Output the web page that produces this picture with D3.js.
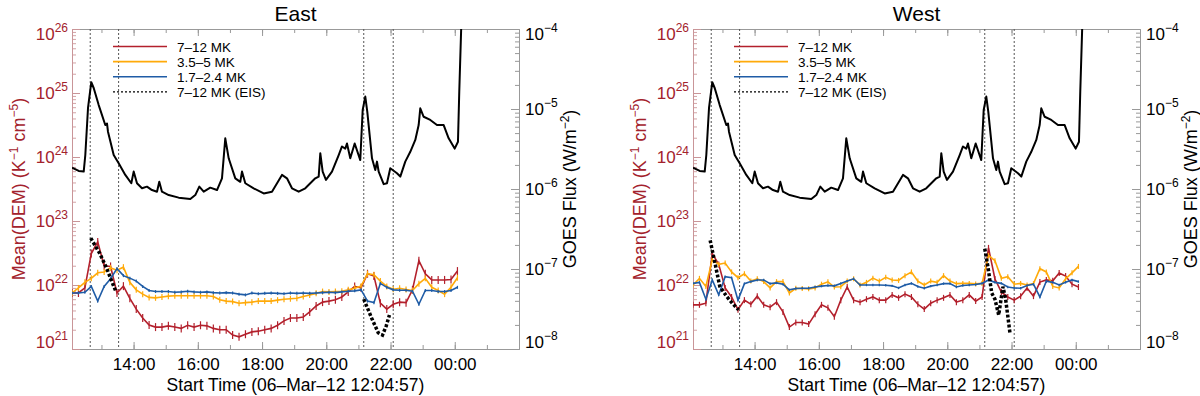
<!DOCTYPE html>
<html>
<head>
<meta charset="utf-8">
<script src="https://cdn.jsdelivr.net/npm/d3@7"></script>
<style>
  body { margin: 0; background: #fff; }
  svg text { font-family: "Liberation Sans", Arial, Helvetica, sans-serif; }
</style>
</head>
<body>
<svg id="chart" width="1200" height="396"></svg>
<script>
// ---- data ----
// AIA DEM sample times, 12 min cadence
const demTimes = [
  "12:05","12:17","12:29","12:41","12:53",
  "13:05","13:17","13:29","13:41","13:53",
  "14:05","14:17","14:29","14:41","14:53",
  "15:05","15:17","15:29","15:41","15:53",
  "16:05","16:17","16:29","16:41","16:53",
  "17:05","17:17","17:29","17:41","17:53",
  "18:05","18:17","18:29","18:41","18:53",
  "19:05","19:17","19:29","19:41","19:53",
  "20:05","20:17","20:29","20:41","20:53",
  "21:05","21:17","21:29","21:41","21:53",
  "22:05","22:17","22:29","22:41","22:53",
  "23:05","23:17","23:29","23:41","23:53",
  "00:05"
];

// mean DEM, units of 1e21 K^-1 cm^-5
const eastRed = [7.5, 7.5, 9.0, 31, 47, 20, 19.5, 7.5, 9.6, 6.2, 4.2, 3.05, 2.37, 2.2, 2.2, 2.3, 2.2, 2.1, 2.35, 2.2,
  2.35, 2.3, 2.1, 2.0, 2.0, 1.65, 1.55, 1.7, 1.85, 1.9, 2.0, 2.1, 2.35, 2.75, 3.05, 3.05, 3.15, 3.8, 4.7, 5.4,
  5.6, 5.9, 6.5, 7.8, 9.5, 9.0, 15, 13.8, 5.2, 4.2, 5.0, 5.4, 5.3, 8.4, 24, 15, 12, 12, 12, 12.2, 16.5];
const eastOrange = [7.5, 9.0, 11, 12.7, 15.5, 16, 18.5, 17, 19, 11, 8.4, 7.2, 6.4, 6.3, 6.5, 6.7, 6.8, 6.8, 6.8, 6.8,
  6.8, 6.8, 6.6, 5.9, 5.6, 5.5, 5.2, 5.3, 5.4, 5.6, 5.6, 5.6, 5.8, 6.0, 6.1, 6.2, 6.6, 7.0, 7.4, 7.9,
  7.8, 7.9, 8.0, 8.4, 8.9, 9.6, 15, 14.5, 11.5, 9.5, 8.6, 8.9, 8.5, 8.2, 10.5, 12.7, 9.2, 8.2, 7.2, 9.2, 13];
const eastBlue = [7.5, 7.5, 7.7, 9.5, 5.6, 9.5, 12.5, 18, 14, 12.8, 11.5, 9.5, 8.2, 7.9, 7.9, 7.9, 7.7, 7.8, 8.0, 7.8,
  7.7, 7.8, 7.6, 7.5, 7.6, 7.5, 7.2, 7.0, 7.5, 7.3, 7.4, 7.5, 7.4, 7.3, 7.5, 7.4, 7.5, 7.4, 7.5, 7.6,
  7.7, 7.6, 7.8, 8.0, 8.1, 8.4, 5.6, 5.3, 10.6, 9.2, 8.4, 8.3, 8.3, 8.0, 5.0, 8.2, 8.2, 7.9, 7.9, 8.2, 9.2];

const westRed = [4.9, 4.9, 5.2, 31, 21, 9, 6.5, 4.1, 5.8, 5.0, 6.7, 4.9, 4.5, 5.4, 3.8, 2.2, 2.6, 2.6, 2.45, 3.5,
  4.9, 4.4, 3.2, 5.8, 9.3, 5.8, 5.4, 6.0, 6.5, 5.8, 5.8, 7.0, 6.3, 7.2, 6.5, 5.0, 4.2, 5.2, 5.8, 6.3,
  7.0, 5.4, 5.8, 7.0, 5.6, 6.5, 38, 12.4, 7.8, 6.5, 5.8, 6.7, 9.0, 6.7, 11.1, 12, 11.6, 15.4, 13.8, 10.3, 9.3];
const westOrange = [10, 12.7, 9.5, 25, 21, 22, 16, 13, 15, 11.5, 12.5, 11.3, 9, 11.3, 11.3, 7.5, 8.9, 8.8, 8.7, 9,
  10.3, 11.2, 9.3, 9.4, 11.5, 12.5, 10, 11, 12.8, 11.5, 13.2, 12, 11.8, 14, 16, 11.5, 10, 11.5, 11, 14,
  11.5, 10.5, 10.6, 10.6, 10.4, 10.6, 29, 24, 12.7, 13.5, 10.3, 10.6, 10, 10.5, 18, 16, 9.5, 9, 12.5, 15.5, 19.5];
const westBlue = [10.6, 11, 6.0, 12, 7, 13.5, 13, 5.8, 10.5, 11.3, 12, 12, 10.5, 10.8, 10.3, 8.4, 8.8, 8.9, 8.9, 9.3,
  9.6, 9.8, 9.7, 10.6, 11.5, 12.5, 10, 10, 10, 10, 9.9, 9.7, 9.0, 10, 10.6, 9.5, 8.9, 9.6, 10, 10.5,
  10.5, 9.3, 9.8, 10, 10.2, 10.6, 12, 11, 10.6, 9.3, 9, 8.9, 9.8, 10.3, 6.5, 11.5, 11, 10, 11, 12, 11.3];

// EIS 7-12 MK, two rasters per side (units of 1e21)
const eastEisTimes1 = ["12:40", "12:57", "13:10", "13:22", "13:27"];
const eastEisValues1 = [54, 31, 18, 10, 7.9];
const eastEisTimes2 = ["21:10", "21:25", "21:37", "21:45", "21:52", "21:58"];
const eastEisValues2 = [6.0, 3.0, 1.8, 1.65, 2.3, 3.4];
const westEisTimes1 = ["12:37", "12:46", "12:55", "13:08", "13:20", "13:30"];
const westEisValues1 = [50, 22, 9.5, 6.6, 5.0, 4.1];
const westEisTimes2 = ["21:10", "21:16", "21:23", "21:29", "21:36", "21:44", "21:49", "21:57"];
const westEisValues2 = [37, 19, 7.5, 6.0, 3.4, 9.4, 6.0, 1.8];

// EIS raster start/end times (dotted verticals)
const eisWindows = ["12:39", "13:32", "21:10", "22:05"];

// GOES 1-8 A flux; hours of day (>24 = 7 March)
const goesHours = [12.083,12.291,12.447,12.497,12.581,12.683,12.758,12.914,13.119,13.172,13.203,13.381,13.536,13.742,
  13.929,14.003,14.106,14.262,14.417,14.573,14.729,14.800,14.884,15.093,15.404,15.766,15.921,16.046,16.183,16.388,
  16.597,16.752,16.855,16.961,17.167,17.322,17.375,17.478,17.739,18.051,18.309,18.620,18.776,18.932,19.140,19.346,
  19.657,19.763,19.813,19.887,19.990,20.177,20.386,20.488,20.591,20.644,20.747,20.884,21.058,21.133,21.214,21.276,
  21.423,21.525,21.578,21.631,21.787,21.889,21.992,22.201,22.304,22.459,22.615,22.771,22.876,22.926,23.032,23.238,
  23.446,23.655,23.810,23.997,24.100,24.140,24.203,24.240];
const goesFlux = [1.85e-6,1.68e-6,1.65e-6,2.66e-6,1.03e-5,2.16e-5,1.83e-5,1.12e-5,6.3e-6,6.6e-6,5.2e-6,2.66e-6,2.1e-6,
  1.5e-6,1.18e-6,1.65e-6,1.18e-6,1.02e-6,1.07e-6,9.7e-7,9.25e-7,1.23e-6,9.25e-7,8.4e-7,7.8e-7,7.5e-7,8.4e-7,1.07e-6,
  9.25e-7,1.04e-6,9.7e-7,1.36e-6,4.3e-6,2.42e-6,1.36e-6,1.23e-6,1.65e-6,1.18e-6,1.02e-6,8.8e-7,9.25e-7,1.5e-6,1.36e-6,
  1.02e-6,9.25e-7,1.02e-6,1.36e-6,1.43e-6,2.8e-6,1.65e-6,1.3e-6,1.65e-6,2.66e-6,3.4e-6,3.2e-6,3.7e-6,2.42e-6,3.7e-6,
  2.3e-6,9.7e-6,1.43e-5,9.25e-6,2.42e-6,1.73e-6,2.2e-6,1.65e-6,1.15e-6,1.18e-6,1.82e-6,1.57e-6,1.43e-6,2.2e-6,2.92e-6,
  4.1e-6,6.3e-6,1.02e-5,8.0e-6,7.3e-6,6.3e-6,6.3e-6,4.3e-6,3.2e-6,3.9e-6,1.64e-5,1.12e-4,2e-4];

const xTickLabels = ["14:00", "16:00", "18:00", "20:00", "22:00", "00:00"];
const demDecades = [21, 22, 23, 24, 25, 26];
const goesDecades = [-8, -7, -6, -5, -4];
const legendLabels = ["7\u201312 MK", "3.5\u20135 MK", "1.7\u20132.4 MK", "7\u201312 MK (EIS)"];

// ---- layout ----
const plotTop = 29, plotW = 447, plotH = 320;
const colRed = "#b3202c", colOrange = "#ffaa0a", colBlue = "#1f5ca6", colAxisRed = "#a3222c";

const t0 = Date.UTC(2012, 2, 6);
const fromHours = h => new Date(t0 + h * 3600000);
function fromClock(s) {
  const p = s.split(":").map(Number);
  const h = p[0] < 12 ? p[0] + 24 : p[0];
  return fromHours(h + p[1] / 60 + (p[2] || 0) / 3600);
}

const x = d3.scaleUtc().domain([fromClock("12:04:57"), fromClock("02:00")]).range([0, plotW]);
const yDem = d3.scaleLog().domain([1e21, 1e26]).range([plotH, 0]);
const yGoes = d3.scaleLog().domain([1e-8, 1e-4]).range([plotH, 0]);

const svg = d3.select("#chart");

const panels = [
  { name: "East", left: 72, red: eastRed, orange: eastOrange, blue: eastBlue,
    eis: [[eastEisTimes1, eastEisValues1], [eastEisTimes2, eastEisValues2]], bars: [4, 3, 1.5] },
  { name: "West", left: 693, red: westRed, orange: westOrange, blue: westBlue,
    eis: [[westEisTimes1, westEisValues1], [westEisTimes2, westEisValues2]], bars: [3, 2.5, 1.2] }
];

function minorLog(lo, hi) {
  const out = [];
  for (let e = lo; e < hi; e++) for (let m = 2; m < 10; m++) out.push(m * Math.pow(10, e));
  return out;
}

function styleAxis(sel, color) {
  sel.select(".domain").attr("stroke", color);
  sel.selectAll(".tick line").attr("stroke", color);
  sel.selectAll(".tick text").remove();
}

function supLabel(g, xPos, yPos, exp, anchor, color) {
  const t = g.append("text")
    .attr("x", xPos).attr("y", yPos)
    .attr("text-anchor", anchor)
    .attr("fill", color)
    .style("font-size", "17px");
  t.append("tspan").text("10");
  t.append("tspan").attr("dy", -8).style("font-size", "12px")
    .text(String(exp).replace("-", "\u2212"));
}

panels.forEach((p, pi) => {
  const g = svg.append("g").attr("transform", `translate(${p.left},${plotTop})`);

  g.append("clipPath").attr("id", "clip" + pi)
    .append("rect").attr("width", plotW).attr("height", plotH);

  // x axes (bottom with labels, top mirrored)
  const hourTicks = d3.utcHour.range(x.domain()[0], x.domain()[1]);
  const majors = xTickLabels.map(fromClock);
  const bMinor = g.append("g").attr("transform", `translate(0,${plotH})`)
    .call(d3.axisBottom(x).tickValues(hourTicks).tickSizeInner(-4).tickSizeOuter(0).tickFormat(""));
  styleAxis(bMinor, "#999");
  const bMajor = g.append("g").attr("transform", `translate(0,${plotH})`)
    .call(d3.axisBottom(x).tickValues(majors).tickSizeInner(-7).tickSizeOuter(0)
      .tickFormat(d3.utcFormat("%H:%M")));
  bMajor.select(".domain").attr("stroke", "#999");
  bMajor.selectAll(".tick line").attr("stroke", "#999");
  bMajor.selectAll(".tick text").attr("fill", "#000").style("font-size", "17px")
    .attr("y", 21).attr("dy", null);
  const tMinor = g.append("g")
    .call(d3.axisTop(x).tickValues(hourTicks).tickSizeInner(-4).tickSizeOuter(0).tickFormat(""));
  styleAxis(tMinor, "#999");
  const tMajor = g.append("g")
    .call(d3.axisTop(x).tickValues(majors).tickSizeInner(-7).tickSizeOuter(0).tickFormat(""));
  styleAxis(tMajor, "#999");

  // left DEM axis
  const lMinor = g.append("g")
    .call(d3.axisLeft(yDem).tickValues(minorLog(21, 26)).tickSizeInner(-4).tickSizeOuter(0).tickFormat(""));
  styleAxis(lMinor, "#d3a3a6");
  const lMajor = g.append("g")
    .call(d3.axisLeft(yDem).tickValues(demDecades.map(e => Math.pow(10, e))).tickSizeInner(-8).tickSizeOuter(0).tickFormat(""));
  styleAxis(lMajor, "#c99598");
  demDecades.forEach((e, i) => {
    const yy = yDem(Math.pow(10, e));
    const off = i === demDecades.length - 1 ? 11 : (i === 0 ? -1 : 6);
    supLabel(g, -4, yy + off, e, "end", colAxisRed);
  });

  // right GOES axis
  const rMinor = g.append("g").attr("transform", `translate(${plotW},0)`)
    .call(d3.axisRight(yGoes).tickValues(minorLog(-8, -4)).tickSizeInner(-4).tickSizeOuter(0).tickFormat(""));
  styleAxis(rMinor, "#999");
  const rMajor = g.append("g").attr("transform", `translate(${plotW},0)`)
    .call(d3.axisRight(yGoes).tickValues(goesDecades.map(e => Math.pow(10, e))).tickSizeInner(-8).tickSizeOuter(0).tickFormat(""));
  styleAxis(rMajor, "#999");
  goesDecades.forEach((e, i) => {
    const yy = yGoes(Math.pow(10, e));
    const off = i === goesDecades.length - 1 ? 11 : (i === 0 ? -1 : 6);
    supLabel(g, plotW + 6, yy + off, e, "start", "#000");
  });

  // EIS raster windows
  g.selectAll(".win").data(eisWindows).enter().append("line")
    .attr("x1", d => x(fromClock(d))).attr("x2", d => x(fromClock(d)))
    .attr("y1", 0).attr("y2", plotH)
    .attr("stroke", "#555").attr("stroke-width", 1).attr("stroke-dasharray", "2,2");

  const plot = g.append("g").attr("clip-path", `url(#clip${pi})`);

  // GOES
  const goesLine = d3.line().x(d => x(fromHours(d[0]))).y(d => yGoes(d[1]));
  plot.append("path")
    .attr("d", goesLine(goesHours.map((h, i) => [h, goesFlux[i]])))
    .attr("fill", "none").attr("stroke", "#000").attr("stroke-width", 2).attr("stroke-linejoin", "round");

  // DEM series
  const demLine = d3.line().x(d => x(d.t)).y(d => yDem(d.v * 1e21));
  [[p.red, colRed, p.bars[0]], [p.orange, colOrange, p.bars[1]], [p.blue, colBlue, p.bars[2]]].forEach(([vals, col, bar]) => {
    const pts = vals.map((v, i) => ({ t: fromClock(demTimes[i]), v }));
    plot.append("path").attr("d", demLine(pts))
      .attr("fill", "none").attr("stroke", col).attr("stroke-width", 1.6);
    plot.selectAll(null).data(pts).enter().append("line")
      .attr("x1", d => x(d.t)).attr("x2", d => x(d.t))
      .attr("y1", d => yDem(d.v * 1e21) - bar).attr("y2", d => yDem(d.v * 1e21) + bar)
      .attr("stroke", col).attr("stroke-width", 1.2);
  });

  // EIS
  p.eis.forEach(([times, vals]) => {
    const pts = vals.map((v, i) => ({ t: fromClock(times[i]), v }));
    plot.append("path").attr("d", demLine(pts))
      .attr("fill", "none").attr("stroke", "#000").attr("stroke-width", 3.5)
      .attr("stroke-dasharray", "3,2");
  });

  // legend
  const legCols = [colRed, colOrange, colBlue, "#000"];
  legendLabels.forEach((lab, i) => {
    const yy = 17.5 + i * 15.1;
    g.append("line").attr("x1", 41).attr("x2", 95).attr("y1", yy).attr("y2", yy)
      .attr("stroke", legCols[i]).attr("stroke-width", i === 3 ? 1.3 : 1.6)
      .attr("stroke-dasharray", i === 3 ? "2,2" : null);
    g.append("text").attr("x", 105).attr("y", yy + 5).text(lab)
      .style("font-size", "13.5px").attr("fill", "#000");
  });

  // titles
  g.append("text").attr("x", plotW / 2).attr("y", -8).attr("text-anchor", "middle")
    .style("font-size", "21px").text(p.name);
  g.append("text").attr("x", plotW / 2).attr("y", 362).attr("text-anchor", "middle")
    .style("font-size", "17.5px").text("Start Time (06\u2013Mar\u201312 12:04:57)");

  const yl = g.append("text").attr("transform", `translate(-47,${plotH / 2}) rotate(-90)`)
    .attr("text-anchor", "middle").attr("fill", colAxisRed).style("font-size", "18px");
  yl.append("tspan").text("Mean(DEM) (K");
  yl.append("tspan").attr("dy", -7).style("font-size", "12px").text("\u22121");
  yl.append("tspan").attr("dy", 7).text(" cm");
  yl.append("tspan").attr("dy", -7).style("font-size", "12px").text("\u22125");
  yl.append("tspan").attr("dy", 7).text(")");

  const yr = g.append("text").attr("transform", `translate(${plotW + 57},${plotH / 2}) rotate(-90)`)
    .attr("text-anchor", "middle").attr("fill", "#000").style("font-size", "18px");
  yr.append("tspan").text("GOES Flux (W/m");
  yr.append("tspan").attr("dy", -7).style("font-size", "12px").text("\u22122");
  yr.append("tspan").attr("dy", 7).text(")");
});
</script>
</body>
</html>
